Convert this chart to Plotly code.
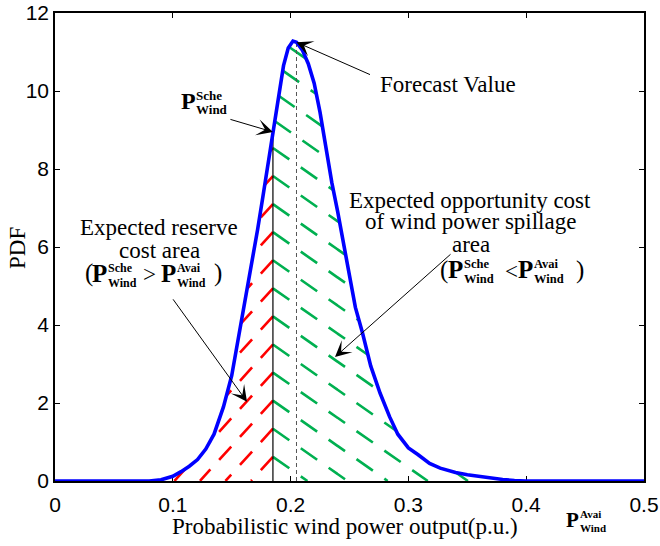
import numpy as np
import plotly.graph_objects as go

# ---------------- data ----------------
x_pdf = [0.000, 0.080, 0.090, 0.100, 0.107, 0.114, 0.121, 0.128, 0.135, 0.143,
         0.150, 0.156, 0.162, 0.167, 0.172, 0.176, 0.180, 0.185, 0.189, 0.194,
         0.198, 0.202, 0.205, 0.210, 0.215, 0.220, 0.225, 0.230, 0.235, 0.240,
         0.245, 0.250, 0.255, 0.261, 0.268, 0.276, 0.284, 0.291, 0.300, 0.308,
         0.318, 0.327, 0.340, 0.350, 0.365, 0.380, 0.390, 0.400, 0.500]
y_pdf = [0.00, 0.00, 0.03, 0.12, 0.24, 0.38, 0.55, 0.82, 1.20, 1.90,
         2.70, 3.70, 4.70, 5.60, 6.45, 7.20, 8.00, 8.95, 9.80, 10.65,
         11.10, 11.28, 11.25, 11.05, 10.70, 10.20, 9.45, 8.55, 7.65, 6.90,
         6.10, 5.25, 4.45, 3.80, 2.95, 2.25, 1.65, 1.20, 0.85, 0.68,
         0.45, 0.33, 0.22, 0.16, 0.09, 0.04, 0.01, 0.00, 0.00]

x_sched = 0.185      # scheduled wind power
x_forecast = 0.205   # forecast value (peak)

x_ticks = [0, 0.1, 0.2, 0.3, 0.4, 0.5]
x_tick_labels = ["0", "0.1", "0.2", "0.3", "0.4", "0.5"]
y_ticks = [0, 2, 4, 6, 8, 10, 12]
y_tick_labels = ["0", "2", "4", "6", "8", "10", "12"]

# ---------------- layout geometry ----------------
W, H = 660, 546
L, R, T, B = 55, 16, 13, 65
PW, PH = W - L - R, H - T - B
PB = H - B
XR, YR = [0, 0.5], [0, 12]
sx = PW / (XR[1] - XR[0])
sy = PH / (YR[1] - YR[0])

SERIF = "Liberation Serif"
SANS = "Liberation Sans"

fig = go.Figure()

def pdf(x):
    return np.interp(x, x_pdf, y_pdf)

# ---------------- hatching (clipped to the area under the pdf) ----------------
hatch_step = 0.72
hatch_start = 0.62
anchors = [hatch_start + hatch_step * k for k in range(0, 18)]
m_red = 1.1 * sx / sy
m_green = -0.7 * sx / sy

def hatch(slope, xs):
    hx, hy = [], []
    pd_ = pdf(xs)
    for a in anchors:
        yl = a + slope * (xs - x_sched)
        inside = (yl >= 0) & (yl <= pd_)
        run = False
        for xi, yi, ok in zip(xs, yl, inside):
            if ok:
                hx.append(xi); hy.append(yi); run = True
            elif run:
                hx.append(None); hy.append(None); run = False
        if run:
            hx.append(None); hy.append(None)
    return hx, hy

xs_left = np.linspace(x_sched, 0.08, 900)
xs_right = np.linspace(x_sched, 0.40, 1800)
rx, ry = hatch(m_red, xs_left)
gx, gy = hatch(m_green, xs_right)

fig.add_trace(go.Scatter(x=rx, y=ry, mode="lines", hoverinfo="skip",
                         line=dict(color="#FF0000", width=2.6, dash="18px,13px")))
fig.add_trace(go.Scatter(x=gx, y=gy, mode="lines", hoverinfo="skip",
                         line=dict(color="#00B050", width=2.6, dash="20px,14px")))

# vertical reference lines
fig.add_trace(go.Scatter(x=[x_sched, x_sched], y=[0, float(pdf(x_sched))], mode="lines",
                         hoverinfo="skip", line=dict(color="black", width=1.2)))
fig.add_trace(go.Scatter(x=[x_forecast, x_forecast], y=[0, float(pdf(x_forecast))], mode="lines",
                         hoverinfo="skip", line=dict(color="#555555", width=1, dash="4px,3px")))

# pdf curve
fig.add_trace(go.Scatter(x=x_pdf, y=y_pdf, mode="lines", cliponaxis=False,
                         line=dict(color="#0000FF", width=3.6)))

# ---------------- axes ----------------
ax_common = dict(showline=True, linecolor="black", linewidth=1.5, mirror="ticks",
                 ticks="inside", ticklen=5, tickwidth=1, tickcolor="black",
                 showgrid=False, zeroline=False, layer="below traces", automargin=False,
                 tickfont=dict(family=SANS, size=21, color="black"))
fig.update_xaxes(range=XR, tickvals=x_ticks, ticktext=x_tick_labels,
                 ticklabelstandoff=4, **ax_common)
fig.update_yaxes(range=YR, tickvals=y_ticks, ticktext=y_tick_labels, **ax_common)

fig.update_layout(width=W, height=H, margin=dict(l=L, r=R, t=T, b=B),
                  paper_bgcolor="white", plot_bgcolor="white", showlegend=False)

# ---------------- text helpers ----------------
def txt(px, py, s, size, xanchor="center", family=SERIF, angle=0):
    fig.add_annotation(x=(px - L) / PW, y=(PB - py) / PH, xref="paper", yref="paper",
                       text=s, showarrow=False, xanchor=xanchor, yanchor="middle",
                       textangle=angle, borderpad=0, borderwidth=0,
                       font=dict(family=family, size=size, color="black"))

def pwind(px_left, py_center, sup, size_p=24, size_s=13, sup_dx=15, dy_up=6, dy_dn=8.5):
    txt(px_left, py_center, "<b>P</b>", size_p, xanchor="left")
    txt(px_left + sup_dx, py_center - dy_up, "<b>%s</b>" % sup, size_s, xanchor="left")
    txt(px_left + sup_dx, py_center + dy_dn, "<b>Wind</b>", size_s, xanchor="left")

def arrow(x, y, ax, ay):
    fig.add_annotation(x=x, y=y, xref="x", yref="y", ax=ax, ay=ay, text="",
                       showarrow=True, arrowhead=3, arrowsize=2.7, arrowwidth=1,
                       arrowcolor="black")

# axis titles
txt(17, 248, "PDF", 23, angle=-90)
txt(172, 526, "Probabilistic wind power output(p.u.)", 23, xanchor="left")
pwind(566, 520, "Avai", size_p=21, size_s=11, sup_dx=14, dy_up=6, dy_dn=7.5)

# Forecast value
txt(448, 84, "Forecast Value", 23)
arrow(x_forecast, float(pdf(x_forecast)), 75, 33)

# P sched label
pwind(181, 101, "Sche", size_p=24, size_s=13, sup_dx=15)
arrow(x_sched, float(pdf(x_sched)), -44, -13)

# reserve cost area
txt(159, 227, "Expected reserve", 23)
txt(159, 250, "cost area", 23)
txt(89, 273, "(", 25)
pwind(92, 273, "Sche", size_p=25, size_s=12, sup_dx=16, dy_up=5.5, dy_dn=9.5)
txt(149, 274, "&gt;", 23)
pwind(161, 273, "Avai", size_p=25, size_s=12, sup_dx=16, dy_up=5.5, dy_dn=9.5)
txt(218, 273, ")", 25)
arrow(0.163, 2.03, -75, -104)

# opportunity cost area
txt(470, 200, "Expected opportunity cost", 23)
txt(470, 222, "of wind power spillage", 23)
txt(471, 244, "area", 23)
txt(444, 270, "(", 25)
pwind(448, 269, "Sche", size_p=25, size_s=12.5, sup_dx=16, dy_up=5, dy_dn=10)
txt(511, 271, "&lt;", 23)
pwind(518, 269, "Avai", size_p=25, size_s=12.5, sup_dx=16, dy_up=5, dy_dn=10)
txt(580, 270, ")", 25)
arrow(0.2377, 3.18, 117, -104)

fig.write_html("out.html")
